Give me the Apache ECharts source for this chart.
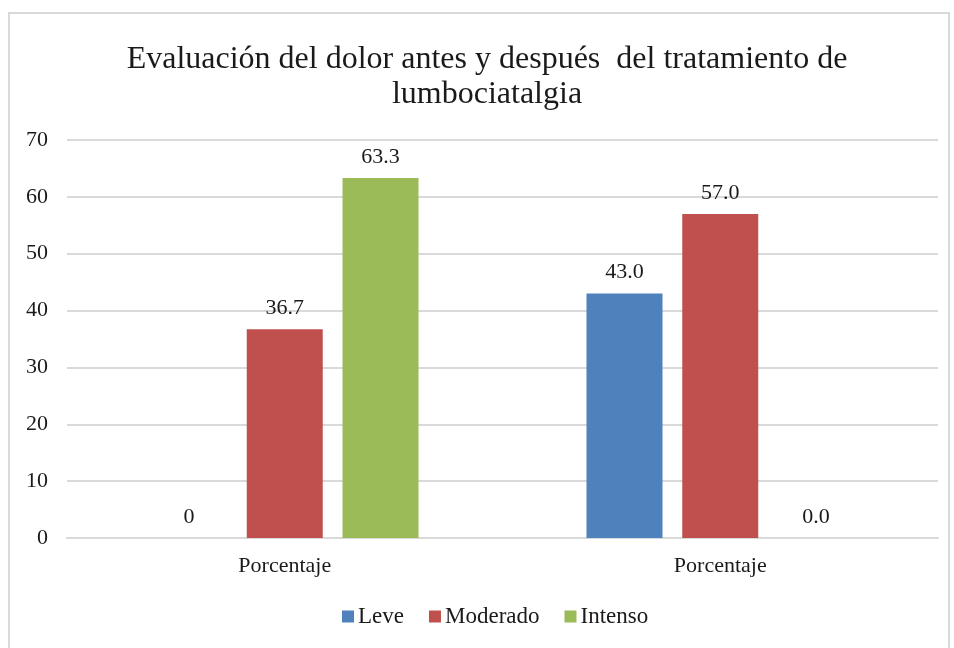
<!DOCTYPE html>
<html>
<head>
<meta charset="utf-8">
<script src="https://cdn.jsdelivr.net/npm/echarts@6/dist/echarts.min.js"></script>
<style>
  html, body { margin: 0; padding: 0; background: #fff; }
  #frame {
    position: absolute; left: 8px; top: 12px; width: 942px; height: 640px;
    border: 2px solid #d9d9d9; box-sizing: border-box;
  }
  #chart { position: absolute; left: 0; top: 0; width: 954px; height: 648px; }
</style>
</head>
<body>
<div id="frame"></div>
<div id="chart"></div>
<script>
const categories = ['Porcentaje', 'Porcentaje']
const seriesNames = ['Leve', 'Moderado', 'Intenso']
const leve = [0, 43.0]
const moderado = [36.7, 57.0]
const intenso = [63.3, 0.0]
const leveLabels = ['0', '43.0']
const moderadoLabels = ['36.7', '57.0']
const intensoLabels = ['63.3', '0.0']
const colors = ['#4f81bd', '#c0504d', '#9bbb59']

const font = '"Liberation Serif", "DejaVu Serif", serif'

function barSeries(name, vals, labels, color) {
  return {
    name,
    type: 'bar',
    data: vals,
    barWidth: 76,
    barGap: '26%',
    itemStyle: { color },
    label: {
      show: true,
      position: 'top',
      distance: 10,
      color: '#1a1a1a',
      fontFamily: font,
      fontSize: 22,
      formatter: (p) => labels[p.dataIndex],
    },
  }
}

const chart = echarts.init(document.getElementById('chart'), undefined, { renderer: 'canvas' })
chart.setOption({
  animation: false,
  color: colors,
  title: {
    text: 'Evaluación del dolor antes y después  del tratamiento de\nlumbociatalgia',
    left: 482,
    top: 37,
    textAlign: 'center',
    textStyle: {
      fontFamily: font,
      fontSize: 32,
      fontWeight: 'normal',
      color: '#1a1a1a',
      lineHeight: 35,
    },
  },
  legend: {
    data: seriesNames,
    bottom: 15,
    left: 337,
    icon: 'rect',
    itemWidth: 12,
    itemHeight: 12,
    itemGap: 25,
    textStyle: { fontFamily: font, fontSize: 23, color: '#1a1a1a', padding: [0, 0, 0, -1] },
  },
  grid: { left: 67, right: 16, top: 140, bottom: 110 },
  xAxis: {
    type: 'category',
    data: categories,
    axisLine: { lineStyle: { color: '#d9d9d9', width: 2 } },
    axisTick: { show: false },
    axisLabel: { fontFamily: font, fontSize: 22, color: '#1a1a1a', margin: 17 },
  },
  yAxis: {
    type: 'value',
    min: 0,
    max: 70,
    interval: 10,
    axisLine: { show: false },
    axisTick: { show: false },
    splitLine: { lineStyle: { color: '#d9d9d9', width: 2 } },
    axisLabel: { fontFamily: font, fontSize: 22, color: '#1a1a1a', margin: 19 },
  },
  series: [
    barSeries(seriesNames[0], leve, leveLabels, colors[0]),
    barSeries(seriesNames[1], moderado, moderadoLabels, colors[1]),
    barSeries(seriesNames[2], intenso, intensoLabels, colors[2]),
  ],
})
</script>
</body>
</html>
